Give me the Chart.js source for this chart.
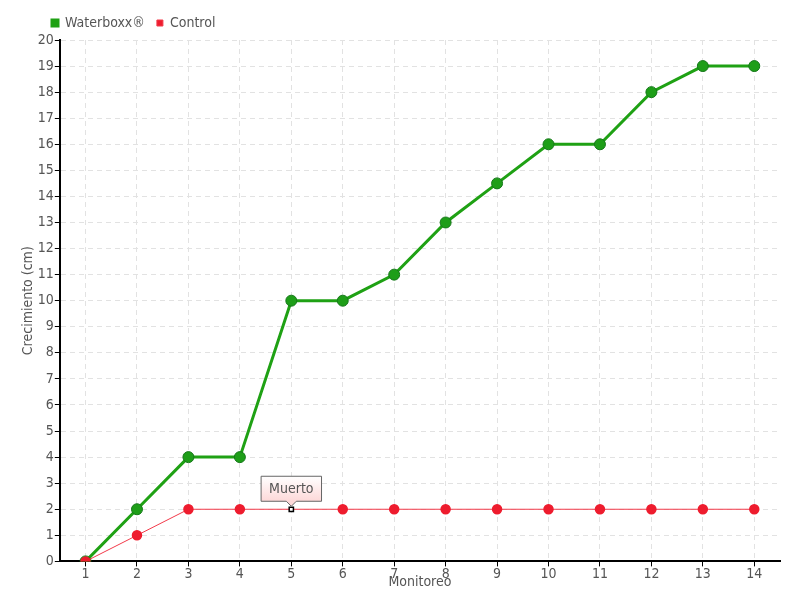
<!DOCTYPE html>
<html>
<head>
<meta charset="utf-8">
<script src="https://cdn.jsdelivr.net/npm/chart.js@4/dist/chart.umd.min.js"></script>
<style>
  body { margin: 0; background: #fff; }
  #wrap { width: 800px; height: 600px; }
</style>
</head>
<body>
<div id="wrap"><canvas id="chart"></canvas></div>
<script>
const monitoreo = ['1', '2', '3', '4', '5', '6', '7', '8', '9', '10', '11', '12', '13', '14'];
const waterboxx = [0, 2, 4, 4, 10, 10, 11, 13, 14.5, 16, 16, 18, 19, 19];
const control = [0, 1, 2, 2, 2, 2, 2, 2, 2, 2, 2, 2, 2, 2];
const muertoIndex = 4;
const muertoText = 'Muerto';

Chart.defaults.font.family = '"DejaVu Sans Condensed", "Liberation Sans Narrow", sans-serif';
Chart.defaults.font.size = 13;
Chart.defaults.color = '#555';

// caja "Muerto" encima del punto de control
const muertoLabel = {
    id: 'muertoLabel',
    afterLayout(chart) {
        // leyenda desplazada a la derecha como en el original
        chart.legend.left = 40;
    },
    afterDatasetsDraw(chart) {
        const meta = chart.getDatasetMeta(1);
        const pt = meta.data[muertoIndex];
        if (!pt) return;
        const ctx = chart.ctx;
        ctx.save();
        ctx.font = '14px "DejaVu Sans Condensed", sans-serif';
        const w = ctx.measureText(muertoText).width + 16;
        const h = 25;
        const x = pt.x - w / 2;
        const y = pt.y - 8 - h;
        const grad = ctx.createLinearGradient(0, y, 0, y + h);
        grad.addColorStop(0, '#ffffff');
        grad.addColorStop(1, '#fdd8d8');
        ctx.beginPath();
        ctx.moveTo(x, y);
        ctx.lineTo(x + w, y);
        ctx.lineTo(x + w, y + h);
        ctx.lineTo(pt.x + 5, y + h);
        ctx.lineTo(pt.x, y + h + 5);
        ctx.lineTo(pt.x - 5, y + h);
        ctx.lineTo(x, y + h);
        ctx.closePath();
        ctx.fillStyle = grad;
        ctx.fill();
        ctx.strokeStyle = '#666';
        ctx.lineWidth = 1;
        ctx.stroke();
        ctx.fillStyle = '#555';
        ctx.textAlign = 'center';
        ctx.textBaseline = 'middle';
        ctx.fillText(muertoText, pt.x, y + h / 2 + 1);
        ctx.restore();
    }
};

const redPointStyle = control.map((v, i) => i === muertoIndex ? 'rect' : 'circle');
const redPointBg = control.map((v, i) => i === muertoIndex ? '#ffffff' : '#ee1c2e');
const redPointBorder = control.map((v, i) => i === muertoIndex ? '#000000' : '#ee1c2e');
const redPointRadius = control.map((v, i) => i === muertoIndex ? 3 : 4.5);

new Chart(document.getElementById('chart'), {
    type: 'line',
    data: {
        labels: monitoreo,
        datasets: [{
            label: 'Waterboxx®',
            data: waterboxx,
            borderColor: '#1fa114',
            backgroundColor: '#1fa114',
            borderWidth: 3,
            pointRadius: 5.5,
            pointBackgroundColor: '#1e9e18',
            pointBorderColor: '#16781a',
            pointBorderWidth: 1,
            order: 2
        }, {
            label: 'Control',
            data: control,
            borderColor: '#f23a4a',
            backgroundColor: '#ee1c2e',
            borderWidth: 1,
            pointStyle: redPointStyle,
            pointRadius: redPointRadius,
            pointBackgroundColor: redPointBg,
            pointBorderColor: redPointBorder,
            pointBorderWidth: 1.5,
            order: 1
        }]
    },
    options: {
        responsive: true,
        maintainAspectRatio: false,
        animation: false,
        layout: { padding: { left: 20, right: 20, top: 4, bottom: 9 } },
        plugins: {
            tooltip: { enabled: false },
            legend: {
                align: 'start',
                labels: {
                    boxWidth: 6,
                    boxHeight: 6,
                    padding: 12,
                    color: '#555',
                    font: { size: 14 },
                    sort: (a, b) => a.datasetIndex - b.datasetIndex
                }
            }
        },
        scales: {
            x: {
                offset: true,
                title: { display: true, text: 'Monitoreo', color: '#555', font: { size: 14 }, padding: { top: -9, bottom: 0 } },
                grid: {
                    color: '#e2e2e2',
                    tickColor: '#000',
                    tickLength: 5,
                    offset: false
                },
                border: { color: '#000', width: 2, dash: [5, 4] },
                ticks: { color: '#555', font: { size: 14 }, padding: 0 }
            },
            y: {
                min: 0,
                max: 20,
                title: { display: true, text: 'Crecimiento (cm)', color: '#555', font: { size: 14 }, padding: 0 },
                grid: { color: '#e2e2e2', tickColor: '#000', tickLength: 5 },
                border: { color: '#000', width: 2, dash: [5, 4] },
                ticks: { stepSize: 1, color: '#555', font: { size: 14 }, padding: 1 }
            }
        }
    },
    plugins: [muertoLabel]
});
</script>
</body>
</html>
